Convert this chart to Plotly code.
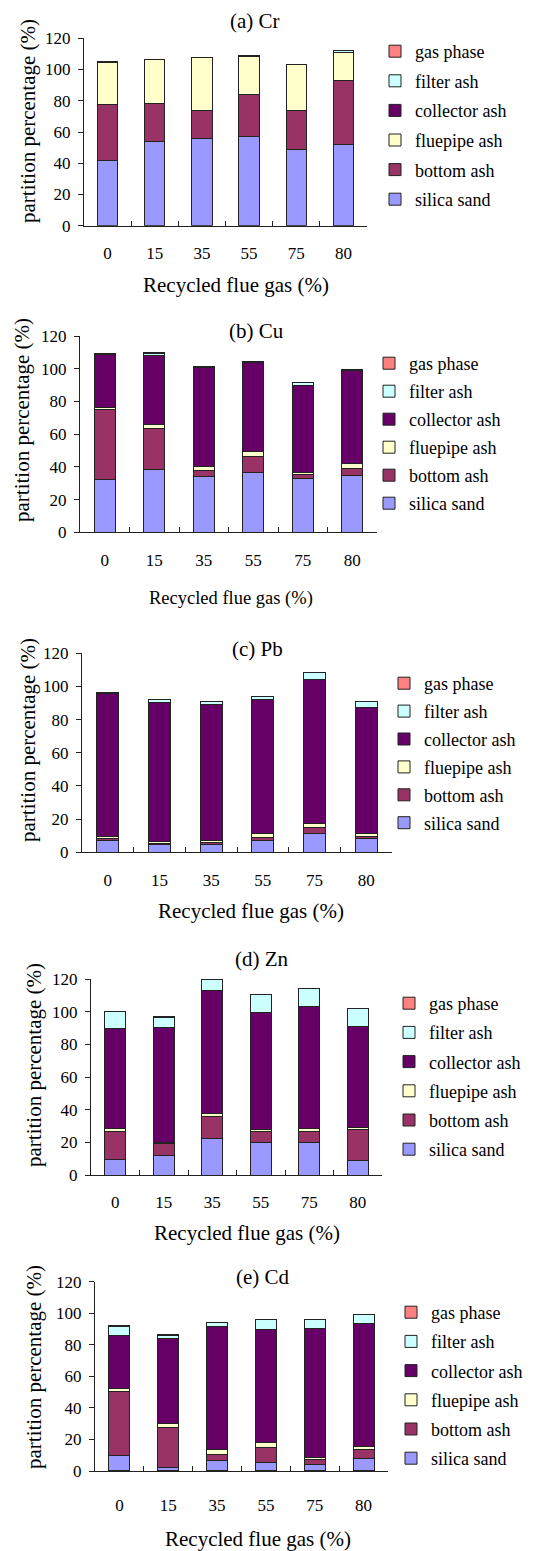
import plotly.graph_objects as go

W, H = 533, 1551
PAGE_OFFSET = 8  # default page body margin in the browser

categories = ["0", "15", "35", "55", "75", "80"]
components = ["silica sand", "bottom ash", "fluepipe ash", "collector ash", "filter ash", "gas phase"]
colors = {"silica sand": "#9999FF", "bottom ash": "#993366", "fluepipe ash": "#FFFFCC",
          "collector ash": "#660066", "filter ash": "#CCFFFF", "gas phase": "#FF8080"}

# (a) Cr
cr_silica = [42.0, 54.0, 55.7, 57.4, 49.1, 52.3]
cr_bottom = [35.5, 24.4, 18.2, 26.7, 24.8, 40.6]
cr_flue = [27.3, 28.1, 33.5, 24.1, 29.2, 17.9]
cr_collector = [0.2, 0.2, 0.2, 0.9, 0.2, 0.3]
cr_filter = [0.0, 0.0, 0.0, 0.0, 0.0, 1.4]
cr_gas = [0.0, 0.0, 0.0, 0.0, 0.0, 0.0]

# (b) Cu
cu_silica = [32.4, 38.5, 34.0, 36.5, 32.8, 34.6]
cu_bottom = [42.8, 24.9, 3.5, 10.1, 2.6, 4.5]
cu_flue = [1.2, 2.4, 2.6, 2.5, 1.3, 2.7]
cu_collector = [32.0, 42.0, 60.5, 54.8, 53.3, 57.0]
cu_filter = [0.5, 1.8, 0.3, 0.3, 1.7, 0.2]
cu_gas = [0.5, 0.1, 0.6, 0.5, 0.1, 0.3]

# (c) Pb
pb_silica = [7.0, 4.6, 4.4, 7.4, 11.3, 8.4]
pb_bottom = [1.2, 0.8, 1.4, 1.6, 3.8, 1.0]
pb_flue = [1.2, 1.4, 1.6, 2.3, 2.4, 1.9]
pb_collector = [86.1, 83.4, 82.0, 80.6, 86.4, 75.9]
pb_filter = [0.5, 1.7, 1.7, 2.2, 4.8, 3.9]
pb_gas = [0.5, 0.0, 0.0, 0.0, 0.0, 0.0]

# (d) Zn
zn_silica = [9.6, 12.0, 22.5, 19.8, 19.8, 8.8]
zn_bottom = [17.3, 7.4, 13.2, 6.9, 7.1, 18.8]
zn_flue = [1.3, 0.6, 1.7, 0.9, 1.5, 1.4]
zn_collector = [61.2, 70.4, 75.5, 71.6, 74.7, 61.8]
zn_filter = [10.4, 5.9, 6.5, 11.2, 11.2, 11.3]
zn_gas = [0.0, 0.6, 0.0, 0.0, 0.0, 0.0]

# (e) Cd
cd_silica = [9.7, 2.3, 6.6, 5.3, 4.2, 7.8]
cd_bottom = [40.4, 25.0, 3.8, 9.5, 2.8, 6.1]
cd_flue = [2.3, 2.5, 3.5, 3.2, 1.7, 1.7]
cd_collector = [33.2, 54.1, 77.6, 72.0, 81.9, 77.6]
cd_filter = [5.9, 2.1, 2.7, 6.1, 5.5, 5.9]
cd_gas = [0.6, 0.8, 0.0, 0.0, 0.0, 0.0]

panel_titles = ["(a) Cr", "(b) Cu", "(c) Pb", "(d) Zn", "(e) Cd"]
panel_data = [
    [cr_silica, cr_bottom, cr_flue, cr_collector, cr_filter, cr_gas],
    [cu_silica, cu_bottom, cu_flue, cu_collector, cu_filter, cu_gas],
    [pb_silica, pb_bottom, pb_flue, pb_collector, pb_filter, pb_gas],
    [zn_silica, zn_bottom, zn_flue, zn_collector, zn_filter, zn_gas],
    [cd_silica, cd_bottom, cd_flue, cd_collector, cd_filter, cd_gas],
]
y_ticks = [0, 20, 40, 60, 80, 100, 120]

# layout geometry in screen pixels
areas = [
    (84, 367, 38.3, 225.7),
    (80, 377, 336, 532.3),
    (82, 392, 653.3, 852.3),
    (91, 382, 979, 1175),
    (95, 388, 1281.7, 1471),
]
title_pos = [(255, 21), (256, 331), (257, 649), (262, 959), (263, 1277)]
xtitle_pos = [(236, 285, 21), (231, 598, 18.5), (251, 911, 21), (247, 1233, 21), (258, 1539, 21)]
ytitle_pos = [(28, 121), (22, 420), (28, 740), (34, 1065), (34, 1367)]
xlabel_standoff = [12, 12, 12, 12, 19]
legend_pos = [(375, 33), (369, 345), (384, 665), (389, 985), (391, 1294)]
legend_gap = [3.2, 1.6, 1.5, 2.8, 2.8]

def px(x):
    return (x - PAGE_OFFSET) / W

def py(y):
    return 1 - (y - PAGE_OFFSET) / H

FONT = "Liberation Serif"
fig = go.Figure()
layout = {}
annotations = []

for i, (title, series) in enumerate(zip(panel_titles, panel_data)):
    n = i + 1
    xa = "x" if n == 1 else f"x{n}"
    ya = "y" if n == 1 else f"y{n}"
    lg = "legend" if n == 1 else f"legend{n}"
    for k, (comp, vals) in enumerate(zip(components, series)):
        fig.add_trace(go.Bar(
            x=categories, y=vals, name=comp,
            marker=dict(color=colors[comp], line=dict(color="#222222", width=1)),
            xaxis=xa, yaxis=ya, legend=lg, legendgroup=f"{comp}{n}",
            legendrank=100 - k,
            hovertemplate=comp + ": %{y}<extra></extra>",
        ))
    x0, x1, yt, yb = areas[i]
    xkey = "xaxis" if n == 1 else f"xaxis{n}"
    ykey = "yaxis" if n == 1 else f"yaxis{n}"
    layout[xkey] = dict(
        domain=[px(x0), px(x1)], anchor=ya, type="category",
        showline=True, linecolor="#222222", linewidth=1,
        ticks="inside", tickson="boundaries", ticklen=5, tickcolor="#222222",
        tickfont=dict(family=FONT, size=17, color="black"),
        ticklabelstandoff=xlabel_standoff[i], showgrid=False, zeroline=False, automargin=False,
    )
    layout[ykey] = dict(
        domain=[py(yb), py(yt)], anchor=xa, range=[0, 120],
        tickvals=y_ticks, ticktext=[str(v) for v in y_ticks],
        showline=True, linecolor="#222222", linewidth=1,
        ticks="outside", ticklen=5, tickcolor="#222222",
        tickfont=dict(family=FONT, size=17, color="black"),
        ticklabelstandoff=4, showgrid=False, zeroline=False, automargin=False,
    )
    lx, ly = legend_pos[i]
    layout[lg] = dict(
        x=px(lx), y=py(ly), xanchor="left", yanchor="top",
        traceorder="grouped", tracegroupgap=legend_gap[i],
        font=dict(family=FONT, size=18, color="black"),
        bgcolor="rgba(0,0,0,0)", itemwidth=30, itemclick=False,
    )
    tx, ty = title_pos[i]
    annotations.append(dict(text=title, x=px(tx), y=py(ty), xref="paper", yref="paper",
                            showarrow=False, xanchor="center", yanchor="middle",
                            font=dict(family=FONT, size=21, color="black")))
    xx, xy, fs = xtitle_pos[i]
    annotations.append(dict(text="Recycled flue gas (%)", x=px(xx), y=py(xy), xref="paper", yref="paper",
                            showarrow=False, xanchor="center", yanchor="middle",
                            font=dict(family=FONT, size=fs, color="black")))
    yx, yy = ytitle_pos[i]
    annotations.append(dict(text="partition percentage (%)", x=px(yx), y=py(yy), xref="paper", yref="paper",
                            showarrow=False, xanchor="center", yanchor="middle", textangle=-90,
                            font=dict(family=FONT, size=21, color="black")))

fig.update_layout(
    width=W, height=H,
    margin=dict(l=0, r=0, t=0, b=0, autoexpand=False),
    font=dict(family=FONT, size=17, color="black"),
    paper_bgcolor="white", plot_bgcolor="white",
    barmode="stack", bargap=0.57,
    annotations=annotations, **layout,
)

fig.write_html("out.html")
